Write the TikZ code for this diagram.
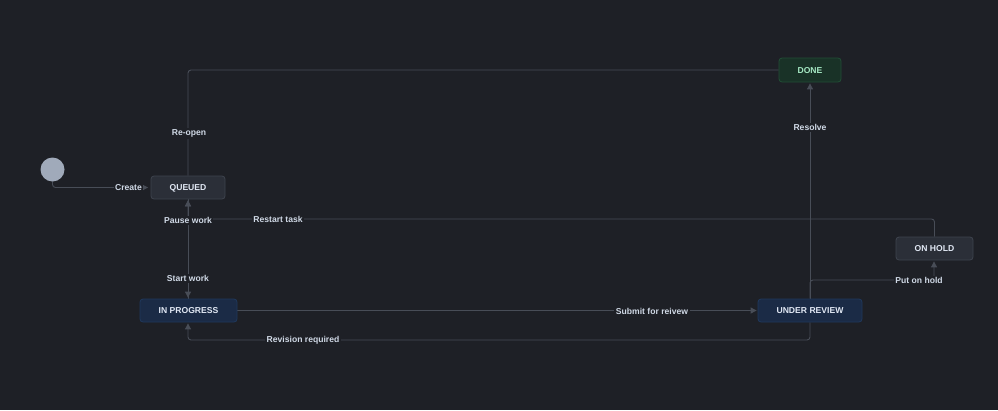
\documentclass[tikz,border=0pt]{standalone}
\usepackage{fontspec}
\setmainfont{Liberation Sans}
\usetikzlibrary{arrows.meta,calc}
\pgfdeclarelayer{bglayer}
\pgfdeclarelayer{edges}
\pgfsetlayers{bglayer,edges,main}
\definecolor{bg}{RGB}{30,32,38}
\definecolor{ln}{RGB}{72,77,87}
\definecolor{txt}{RGB}{225,232,244}
\definecolor{lbltxt}{RGB}{208,217,230}
\definecolor{qfill}{RGB}{43,47,56}
\definecolor{qdraw}{RGB}{62,67,78}
\definecolor{bfill}{RGB}{27,43,70}
\definecolor{bdraw}{RGB}{32,56,92}
\definecolor{gfill}{RGB}{25,50,39}
\definecolor{gdraw}{RGB}{34,78,54}
\definecolor{gtxt}{RGB}{165,232,195}
\definecolor{startc}{RGB}{160,170,186}
\tikzset{
  stbox/.style={rectangle, rounded corners=3pt, line width=0.8pt, inner sep=0pt,
    minimum height=23pt, text depth=0pt, font=\fontsize{8.6}{10}\selectfont\bfseries, text=txt},
  grey/.style={stbox, fill=qfill, draw=qdraw},
  blue/.style={stbox, fill=bfill, draw=bdraw},
  green/.style={stbox, fill=gfill, draw=gdraw, text=gtxt},
  conn/.style={draw=ln, line width=0.9pt, rounded corners=3pt},
  ar/.style={conn, -{Triangle[length=6pt,width=6pt]}, shorten >=1pt},
  lbl/.style={fill=bg, inner sep=1.5pt, text=lbltxt, font=\fontsize{8.6}{10}\selectfont\bfseries}
}
\begin{document}
\begin{tikzpicture}[x=1pt,y=-1pt]
\begin{pgfonlayer}{bglayer}
\fill[bg] (0,0) rectangle (998,410);
\end{pgfonlayer}
\useasboundingbox (0,0) rectangle (998,410);

% states
\node[circle, fill=startc, minimum size=24pt, inner sep=0pt] (start) at (52.5,169.5) {};
\node[grey, minimum width=74pt] (queued) at (188,187.5) {QUEUED};
\node[blue, minimum width=97pt] (inprog) at (188.5,310.5) {IN PROGRESS};
\node[green, minimum width=62pt, minimum height=24pt] (done) at (810,70) {DONE};
\node[blue, minimum width=104pt] (review) at (810,310.5) {UNDER REVIEW};
\node[grey, minimum width=77pt] (onhold) at (934.5,248.5) {ON HOLD};

% junction points
\coordinate (qs) at (queued.south -| 188,0);
\coordinate (qn) at (queued.north -| 188,0);
\coordinate (ipn) at (inprog.north -| 188,0);
\coordinate (ips) at (inprog.south -| 188,0);
\coordinate (rsbend) at (188,219);
\coordinate (rvbend) at (188,340);
\coordinate (hbend) at (934,280);
\coordinate (hs) at (onhold.south -| 934,0);

\begin{pgfonlayer}{edges}
% Create
\draw[ar, shorten >=2.5pt] (start.south) |- (queued.west);
% Re-open
\draw[conn] (done.west) -| (qn);
% Start work
\draw[ar] (qs) -- (ipn);
% Pause work
\draw[ar] (ipn) -- (qs);
% Restart task
\draw[ar] (onhold.north) |- (rsbend) -- (qs);
% Submit for review
\draw[ar] (inprog.east) -- (review.west);
% Revision required
\draw[ar] (review.south) |- (rvbend) -- (ips);
% Resolve
\draw[ar] (review.north) -- (done.south);
% Put on hold
\draw[ar] (review.north) |- (hbend) -- (hs);
\end{pgfonlayer}

% labels
\node[lbl] (lcreate) at (128.5,188) {Create};
\node[lbl] (lreopen) at (189,133.5) {Re-open};
\node[lbl] (lpause) at (188,220.5) {Pause work};
\node[lbl] (lrestart) at (278,219.5) {Restart task};
\node[lbl] (lstart) at (188,278.5) {Start work};
\node[lbl] (lsubmit) at (652,311) {Submit for reivew};
\node[lbl] (lrevision) at (303,340.5) {Revision required};
\node[lbl] (lresolve) at (810,127.5) {Resolve};
\node[lbl] (lhold) at (919,280.5) {Put on hold};
\end{tikzpicture}
\end{document}
